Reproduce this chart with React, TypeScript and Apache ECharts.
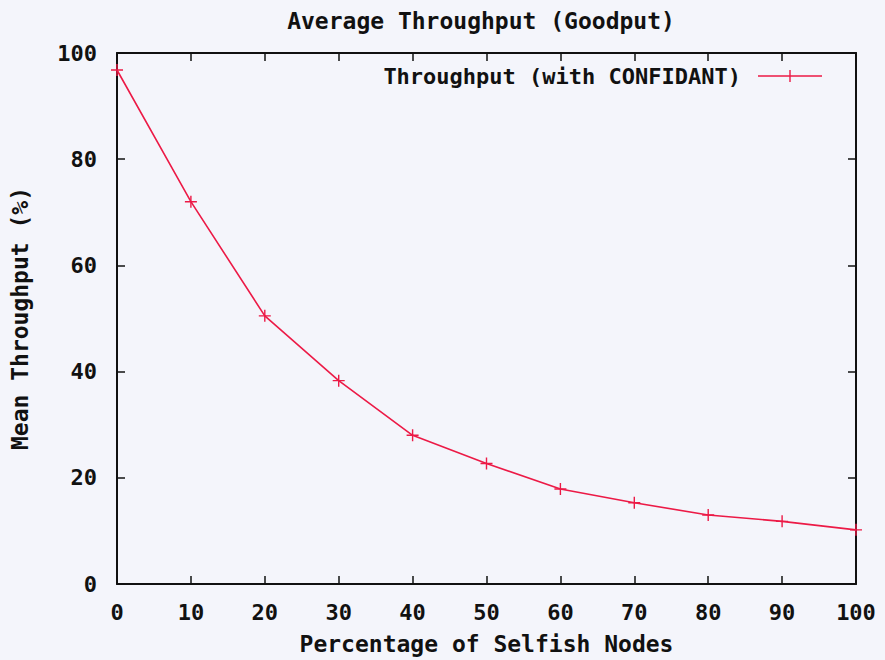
import React, { useEffect, useRef } from "react";
import * as echarts from "echarts";

const xValues = [0, 10, 20, 30, 40, 50, 60, 70, 80, 90, 100];
const throughput = [96.8, 72.0, 50.5, 38.3, 28.0, 22.7, 17.9, 15.3, 13.0, 11.8, 10.2];
const titleText = "Average Throughput (Goodput)";
const seriesName = "Throughput (with CONFIDANT)";
const xName = "Percentage of Selfish Nodes";
const yName = "Mean Throughput (%)";

const FONT = "DejaVu Sans Mono";
const RED = "#ec1a46";
const CROSS = "path://M0,5.3h12v1.4h-12z M5.3,0h1.4v12h-1.4z";
const LEGEND_ICON = "path://M0,5.3h64v1.4h-64z M31.3,0h1.4v12h-1.4z";

export default function App() {
  const ref = useRef<HTMLDivElement>(null);
  useEffect(() => {
    if (!ref.current) return;
    const chart = echarts.init(ref.current, null, { renderer: "svg" });
    const data = xValues.map((x, i) => [x, throughput[i]]);
    const tickStyle = { show: true, inside: true, length: 8, lineStyle: { color: "#111", width: 1.5 } };
    const txt = { fontFamily: FONT, fontWeight: "bold", fontSize: 23, color: "#111" };
    chart.setOption({
      animation: false,
      backgroundColor: "#f4f5fb",
      title: {
        text: titleText,
        left: 476,
        top: 4,
        textAlign: "center",
        textStyle: { ...txt, fontSize: 23 },
      },
      legend: {
        data: [{ name: seriesName, icon: LEGEND_ICON }],
        right: 58,
        top: 60,
        align: "right",
        itemWidth: 64,
        itemHeight: 12,
        textStyle: { ...txt, fontSize: 22, padding: [0, 12, 0, 0] },
      },
      grid: { left: 116, right: 29, top: 53, bottom: 73, containLabel: false },
      xAxis: [
        {
          type: "value",
          min: 0,
          max: 100,
          interval: 10,
          name: xName,
          nameLocation: "middle",
          nameGap: 48,
          nameTextStyle: txt,
          axisLine: { show: true, lineStyle: { color: "#111", width: 2 } },
          axisTick: tickStyle,
          axisLabel: { ...txt, fontSize: 22, margin: 17 },
          splitLine: { show: false },
        },
        {
          type: "value",
          position: "top",
          min: 0,
          max: 100,
          interval: 10,
          axisLine: { show: true, onZero: false, lineStyle: { color: "#111", width: 2 } },
          axisTick: tickStyle,
          axisLabel: { show: false },
          splitLine: { show: false },
        },
      ],
      yAxis: [
        {
          type: "value",
          min: 0,
          max: 100,
          interval: 20,
          name: yName,
          nameLocation: "middle",
          nameGap: 86,
          nameTextStyle: txt,
          axisLine: { show: true, lineStyle: { color: "#111", width: 2 } },
          axisTick: tickStyle,
          axisLabel: { ...txt, fontSize: 22, margin: 20 },
          splitLine: { show: false },
        },
        {
          type: "value",
          position: "right",
          min: 0,
          max: 100,
          interval: 20,
          axisLine: { show: true, onZero: false, lineStyle: { color: "#111", width: 2 } },
          axisTick: tickStyle,
          axisLabel: { show: false },
          splitLine: { show: false },
        },
      ],
      series: [
        {
          name: seriesName,
          type: "line",
          data,
          symbol: CROSS,
          symbolSize: 12,
          showAllSymbol: true,
          lineStyle: { color: RED, width: 1.6 },
          itemStyle: { color: RED },
          z: 3,
        },
      ],
    });
    return () => chart.dispose();
  }, []);
  return <div ref={ref} style={{ width: 885, height: 660, position: "absolute", left: 0, top: 0 }} />;
}
